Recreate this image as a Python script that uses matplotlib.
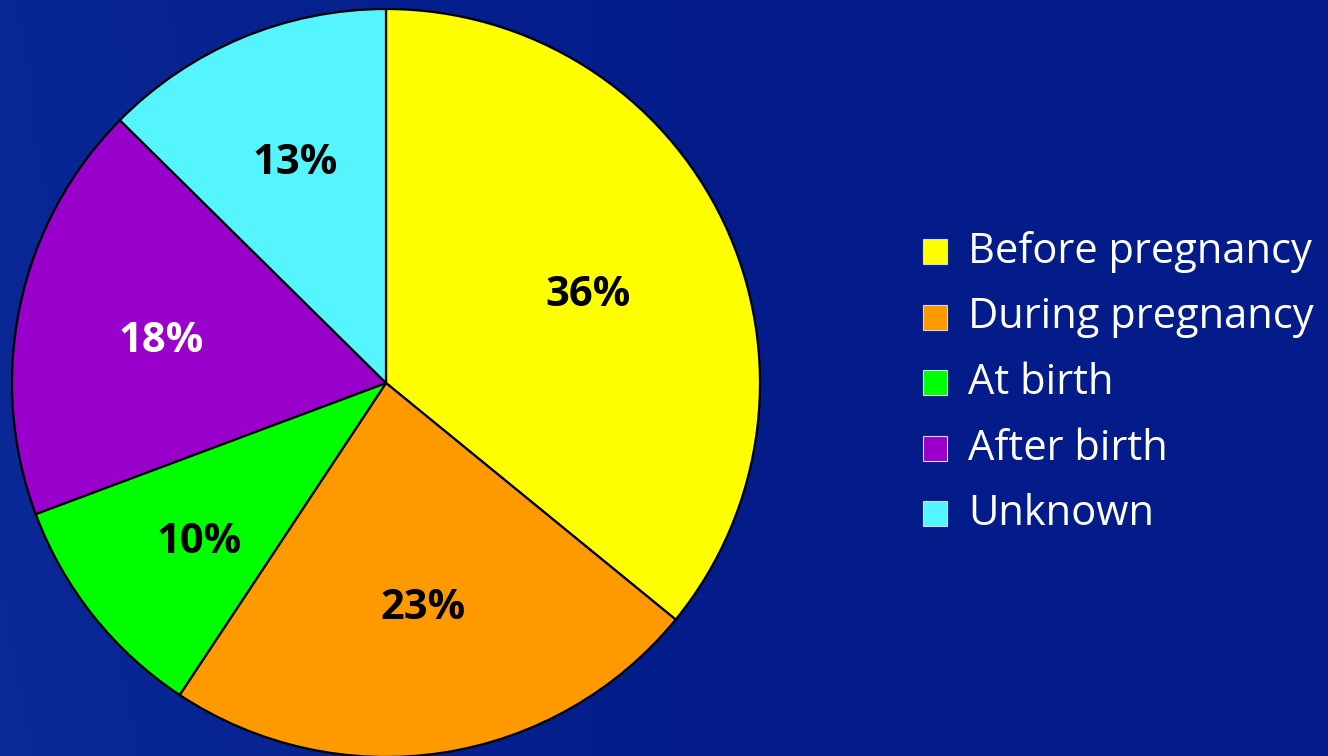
import numpy as np
import matplotlib
matplotlib.use("Agg")
import matplotlib.pyplot as plt
from matplotlib.patches import Rectangle

labels = ["Before pregnancy", "During pregnancy", "At birth", "After birth", "Unknown"]
values = [35.9, 23.4, 10.0, 18.1, 12.6]
colors = ["#FFFF00", "#FF9900", "#00FF00", "#9900CC", "#55F5FF"]
pct_colors = ["black", "black", "black", "white", "black"]
pct_dist = [0.587, 0.59, 0.653, 0.627, 0.656]

W, H = 1328, 756
plt.rcParams['font.family'] = ['Open Sans', 'DejaVu Sans']

fig = plt.figure(figsize=(W / 100, H / 100), dpi=100)
ax = fig.add_axes([0, 0, 1, 1])
ax.set_xlim(0, W)
ax.set_ylim(0, H)
ax.axis('off')

# background: dark blue, a little lighter towards the left
xx, yy = np.meshgrid(np.linspace(0, 1, 200), np.linspace(0, 1, 120))
t = np.clip(1 - xx * 1.8, 0, 1) * 0.5 + np.clip(0.45 - xx - yy * 0.3, 0, 1) * 0.4
c0 = np.array([0x03, 0x1c, 0x8a]) / 255
c1 = np.array([0x0d, 0x30, 0x9c]) / 255
bg = c0 + (c1 - c0) * t[..., None]
ax.imshow(bg, extent=[0, W, 0, H], aspect='auto', zorder=0, origin='lower')

cx, cy, R = 386, H - 383, 374
wedges, _, autotexts = ax.pie(values, colors=colors, startangle=90, counterclock=False,
                              center=(cx, cy), radius=R,
                              autopct=lambda p: '%d%%' % round(p), pctdistance=0.6,
                              wedgeprops=dict(edgecolor='black', linewidth=1.6),
                              textprops=dict(fontsize=30, fontweight='bold'))
for w, t_, c, d in zip(wedges, autotexts, pct_colors, pct_dist):
    ang = np.deg2rad((w.theta1 + w.theta2) / 2)
    t_.set_position((cx + d * R * np.cos(ang) + 4, cy + d * R * np.sin(ang) - 7))
    t_.set_color(c)
ax.set_xlim(0, W)
ax.set_ylim(0, H)
ax.set_aspect('auto')

# legend
for i, (lab, col) in enumerate(zip(labels, colors)):
    base = H - (263 + i * 65.5)
    ax.add_patch(Rectangle((923, base - 1), 24, 25, facecolor=col,
                           edgecolor='#d8d8e8', linewidth=0.8, zorder=3))
    ax.text(968, base, lab, color='white', fontsize=30, va='baseline', ha='left', zorder=3)

fig.savefig("out.png", dpi=100)
